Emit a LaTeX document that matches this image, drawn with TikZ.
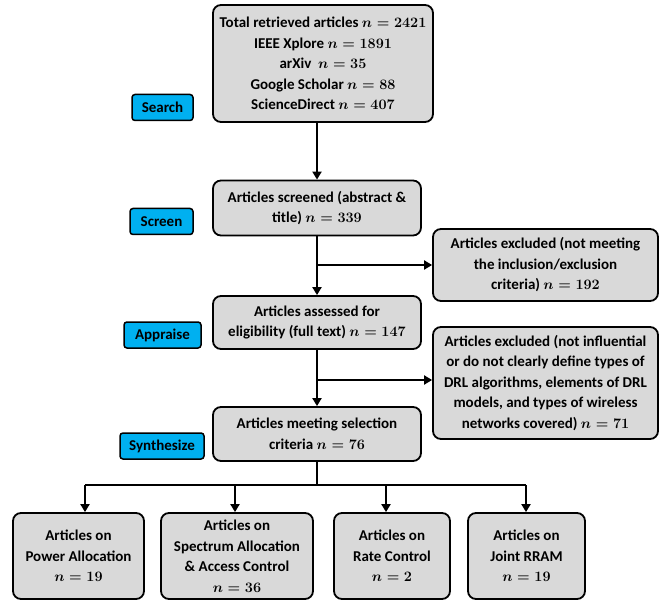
\documentclass[tikz,border=0pt]{standalone}
\usepackage{fontspec}
\setmainfont{Carlito}
\usetikzlibrary{arrows.meta}
\definecolor{boxgray}{HTML}{D9D9D9}
\definecolor{tagblue}{HTML}{00B0F0}
\tikzset{
  box/.style={draw=black, line width=1.8pt, fill=boxgray, rounded corners=8pt,
    align=center, inner sep=0pt,
    font=\fontsize{15}{20.5}\selectfont\bfseries\boldmath},
  tag/.style={draw=black, line width=1.5pt, fill=tagblue, rounded corners=3pt,
    inner sep=0pt, minimum height=26pt,
    font=\fontsize{15}{18}\selectfont\bfseries},
  conn/.style={line width=2.5pt, -{Triangle[length=8pt,width=9pt]}},
  seg/.style={line width=2.5pt},
}
\begin{document}
\begin{tikzpicture}[x=1pt,y=-1pt]
\useasboundingbox (0,0) rectangle (666,601);
% main column
\node[box, minimum width=220pt, minimum height=117pt] (top) at (323,63.5)
  {Total retrieved articles $n=2421$\\ IEEE Xplore $n=1891$\\ arXiv\ \ $n=35$\\ Google Scholar $n=88$\\ ScienceDirect $n=407$};
\node[box, minimum width=208pt, minimum height=55pt] (scr) at (317,208)
  {Articles screened (abstract \&\\ title) $n=339$};
\node[box, minimum width=225pt, minimum height=72pt] (ex1) at (545.5,265)
  {Articles excluded (not meeting\\ the inclusion/exclusion\\ criteria) $n=192$};
\node[box, minimum width=208pt, minimum height=53pt] (ass) at (317,322.5)
  {Articles assessed for\\ eligibility (full text) $n=147$};
\node[box, minimum width=225pt, minimum height=112pt] (ex2) at (545.5,383)
  {Articles excluded (not influential\\ or do not clearly define types of\\ DRL algorithms, elements of DRL\\ models, and types of wireless\\ networks covered) $n=71$};
\node[box, minimum width=208pt, minimum height=54pt] (meet) at (317,434)
  {Articles meeting selection\\ criteria $n=76$};
% bottom row
\node[box, minimum width=131pt, minimum height=86pt] (b1) at (78.5,556)
  {Articles on\\ Power Allocation\\ $n=19$};
\node[box, minimum width=152pt, minimum height=86pt] (b2) at (237,556)
  {Articles on\\ Spectrum Allocation\\ \& Access Control\\ $n=36$};
\node[box, minimum width=116pt, minimum height=86pt] (b3) at (392,556)
  {Articles on\\ Rate Control\\ $n=2$};
\node[box, minimum width=117pt, minimum height=86pt] (b4) at (526.5,556)
  {Articles on\\ Joint RRAM\\ $n=19$};
% stage tags
\node[tag, minimum width=61pt] (tsearch) at (162.5,107.5) {Search};
\node[tag, minimum width=63pt] (tscreen) at (161.5,221.5) {Screen};
\node[tag, minimum width=77pt] (tappr) at (162.5,335) {Appraise};
\node[tag, minimum width=84pt] (tsyn) at (162,446) {Synthesize};
% connectors
\coordinate (j1) at (scr.south |- ex1.west);
\coordinate (j2) at (ass.south |- 0,380);
\coordinate (j3) at (meet.south |- 0,485);
\draw[conn] (scr.north |- top.south) -- (scr.north);
\draw[conn] (scr.south) -- (ass.north);
\draw[conn] (j1) -- (ex1.west);
\draw[conn] (ass.south) -- (meet.north);
\draw[conn] (j2) -- (ex2.west |- j2);
\draw[seg] (meet.south) -- (j3);
\draw[seg] ([xshift=6.5pt]b1.north |- j3) -- ([xshift=-0.5pt]b4.north |- j3);
\draw[conn] ([xshift=6.5pt]b1.north |- j3) -- ([xshift=6.5pt]b1.north);
\draw[conn] ([xshift=-2pt]b2.north |- j3) -- ([xshift=-2pt]b2.north);
\draw[conn] ([xshift=-6pt]b3.north |- j3) -- ([xshift=-6pt]b3.north);
\draw[conn] ([xshift=-0.5pt]b4.north |- j3) -- ([xshift=-0.5pt]b4.north);
\end{tikzpicture}
\end{document}
